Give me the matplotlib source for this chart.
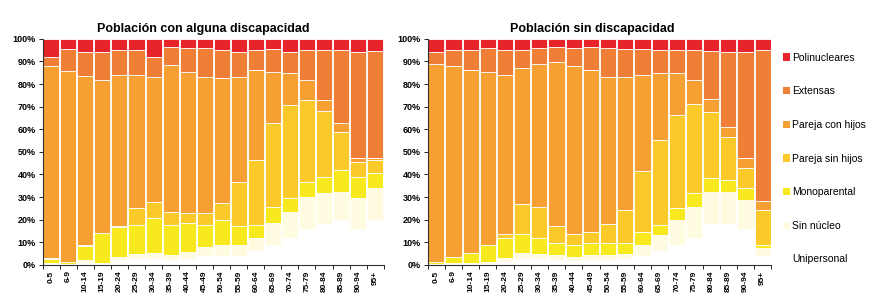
import matplotlib.pyplot as plt
import numpy as np
from matplotlib.patches import Patch

plt.rcParams['font.family'] = ['Liberation Sans', 'DejaVu Sans']

ages = ['0-5', '6-9', '10-14', '15-19', '20-24', '25-29', '30-34', '35-39', '40-44',
        '45-49', '50-54', '55-59', '60-64', '65-69', '70-74', '75-79', '80-84',
        '85-89', '90-94', '95+']

categories = ['Unipersonal', 'Sin núcleo', 'Monoparental', 'Pareja sin hijos',
              'Pareja con hijos', 'Extensas', 'Polinucleares']
colors = ['#FFFFFF', '#FFFBE0', '#F8E81E', '#FBC92A', '#F6A034', '#EF7E36', '#E8242B']

# Población con alguna discapacidad (%)
con_uni = [0.5, 0.3, 1, 0.3, 2, 2.5, 2.5, 2, 2.5, 4, 4, 4, 6, 9, 12, 16, 18, 20, 16, 20]
con_sin = [0.5, 0.2, 1.2, 0.4, 1.7, 2.2, 2.7, 2.4, 3.4, 4.1, 4.8, 4.8, 5.8, 9.4, 11.6, 14.2, 13.7, 12.4, 13.5, 13.9]
con_mono = [1.5, 1, 6.1, 13.3, 13, 13, 15.4, 13.3, 12.5, 9.6, 11.1, 8.2, 5.9, 7.4, 5.9, 6.7, 7.4, 9.6, 9.6, 6.7]
con_psin = [0.5, 0, 0.5, 0, 0.3, 7.3, 7.4, 5.9, 4.5, 5.2, 7.4, 19.9, 28.8, 36.9, 41.3, 36.1, 29, 17, 6.6, 5.9]
con_pcon = [85.2, 84.3, 74.8, 67.9, 67.1, 59.1, 55.3, 64.9, 62.4, 60.4, 55.3, 46.4, 39.8, 22.8, 14, 8.9, 4.9, 3.7, 1.5, 0.7]
con_ext = [4, 9.6, 10.8, 12.1, 11, 11, 8.9, 8.1, 10.6, 12.6, 12.5, 11.1, 8.8, 10.1, 9.6, 13.2, 22.1, 32.4, 47.2, 47.5]
con_poli = [7.8, 4.6, 5.6, 6, 4.9, 4.9, 7.8, 3.4, 4.1, 4.1, 4.9, 5.6, 4.9, 4.4, 5.6, 4.9, 4.9, 4.9, 5.6, 5.3]

# Población sin discapacidad (%)
sin_uni = [0.3, 0.3, 0.3, 0.5, 1.5, 2.5, 2.5, 2, 1.8, 2, 2, 2.5, 4, 6, 9, 12, 18, 18, 16, 4]
sin_sin = [0.2, 0.4, 0.4, 0.7, 1.4, 2.7, 2.2, 2.4, 1.9, 2.4, 2.4, 2.2, 4.8, 7.3, 10.9, 13.8, 14.4, 14.4, 12.8, 3.5]
sin_mono = [1, 3, 4.5, 7.6, 8.9, 8.4, 7.1, 5.2, 5.1, 5.2, 5.2, 4.9, 5.9, 4.4, 5.2, 5.9, 5.9, 5.2, 5.1, 1.1]
sin_psin = [0, 0, 0, 0, 1.8, 13.2, 14, 7.4, 4.8, 5.1, 8.4, 14.7, 26.9, 37.6, 41.3, 39.4, 29.3, 19.2, 8.9, 15.7]
sin_pcon = [87.3, 84.1, 81.1, 76.5, 70.5, 60.2, 63, 72.7, 74.2, 71.6, 65.3, 59, 42.5, 29.5, 18.4, 10.8, 5.9, 4, 4.4, 4]
sin_ext = [5.6, 7.3, 8.8, 10.6, 11, 8.1, 7.1, 6.5, 8.1, 9.9, 12.6, 12.3, 11.5, 10.3, 10.3, 13.2, 21.2, 33.6, 46.9, 66.8]
sin_poli = [5.6, 4.9, 4.9, 4.1, 4.9, 4.9, 4.1, 3.8, 4.1, 3.8, 4.1, 4.4, 4.4, 4.9, 4.9, 4.9, 5.3, 5.6, 5.9, 4.9]

series_con = [con_uni, con_sin, con_mono, con_psin, con_pcon, con_ext, con_poli]
series_sin = [sin_uni, sin_sin, sin_mono, sin_psin, sin_pcon, sin_ext, sin_poli]


def draw_stack(ax, series, title, title_x):
    data = np.array(series, dtype=float)
    data = data / data.sum(axis=0) * 100
    x = np.arange(len(ages))
    bottom = np.zeros(len(ages))
    for vals, col in zip(data, colors):
        ax.bar(x, vals, bottom=bottom, width=0.94, color=col,
               edgecolor='white', linewidth=0.6)
        bottom += vals
    ax.set_xlim(-0.5, len(ages) - 0.5)
    ax.set_ylim(0, 100)
    ax.set_yticks(np.arange(0, 101, 10))
    ax.set_yticklabels([f'{v}%' for v in range(0, 101, 10)], fontsize=6.5, fontweight='bold')
    ax.set_xticks(x)
    ax.set_xticklabels(ages, rotation=90, fontsize=6, fontweight='bold')
    ax.set_xticks(np.arange(-0.5, len(ages)), minor=True)
    ax.tick_params(axis='x', which='major', length=0, pad=4)
    ax.tick_params(axis='x', which='minor', length=3, width=0.6)
    ax.tick_params(axis='y', length=3, width=0.6, pad=2)
    for s in ['top', 'right']:
        ax.spines[s].set_visible(False)
    for s in ['left', 'bottom']:
        ax.spines[s].set_linewidth(0.8)
        ax.spines[s].set_color('#333333')
    ax.set_title(title, fontsize=9, fontweight='bold', pad=5, x=title_x)


fig = plt.figure(figsize=(8.72, 2.99), dpi=100)
ax1 = fig.add_axes([0.049, 0.114, 0.391, 0.756])
ax2 = fig.add_axes([0.4905, 0.114, 0.394, 0.756])

draw_stack(ax1, series_con, 'Población con alguna discapacidad', 0.47)
draw_stack(ax2, series_sin, 'Población sin discapacidad', 0.48)

# legend on the right, top = Polinucleares
handles = [Patch(facecolor=c, edgecolor='none') for c in colors[::-1]]
fig.legend(handles, categories[::-1], loc='upper left', bbox_to_anchor=(0.893, 0.838),
           frameon=False, fontsize=7.5, handlelength=0.7, handleheight=0.7,
           handletextpad=0.2, labelspacing=2.27, borderaxespad=0)

plt.savefig('out.png', dpi=100)
